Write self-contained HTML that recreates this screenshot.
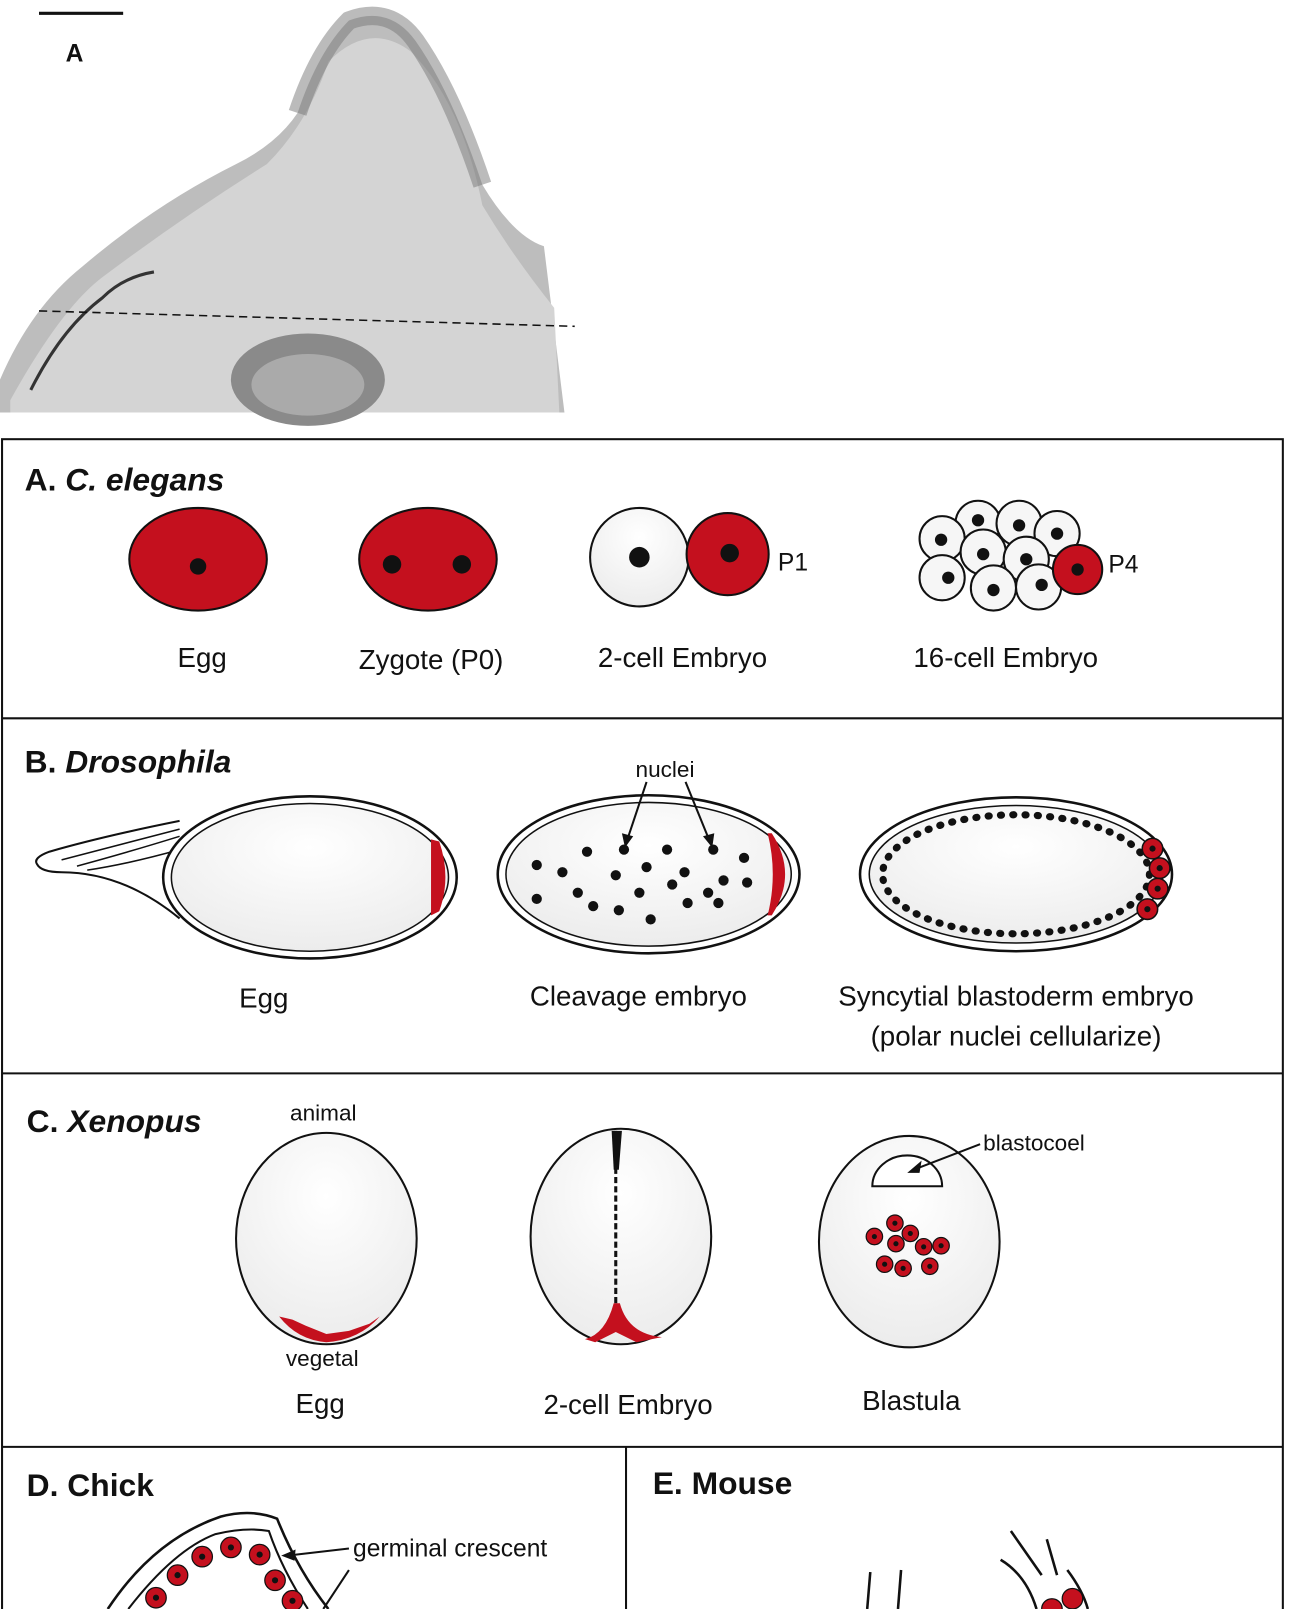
<!DOCTYPE html>
<html><head><meta charset="utf-8"><style>
html,body{margin:0;padding:0;background:#fff;}
svg{display:block;}
text{font-family:"Liberation Sans",sans-serif;fill:#111;}
</style></head><body>
<svg width="1289" height="1609" viewBox="0 0 1256 1568" preserveAspectRatio="none" xmlns="http://www.w3.org/2000/svg">
<defs>
<radialGradient id="g" cx="0.5" cy="0.3" r="0.7"><stop offset="0" stop-color="#fff"/><stop offset="1" stop-color="#ececec"/></radialGradient>
</defs>
<line x1="38" y1="13" x2="120" y2="13" stroke="#111" stroke-width="3"/>
<text x="64" y="60" font-size="24" font-weight="bold">A</text>
<path d="M0 402 L0 370 Q30 300 80 260 Q150 200 230 160 Q270 140 290 110 Q310 50 340 20 Q380 5 405 40 Q440 90 470 180 Q500 230 530 240 L550 402 Z" fill="#bdbdbd"/>
<path d="M10 390 Q60 300 100 270 Q180 210 260 160 Q300 120 320 60 Q360 20 400 50 Q450 100 470 200 Q500 250 540 300 L545 402 L10 402 Z" fill="#d4d4d4"/>
<path d="M290 110 Q310 50 340 20 Q380 5 405 40 Q440 90 470 180" fill="none" stroke="#777" stroke-width="18" opacity="0.5"/>
<ellipse cx="300" cy="370" rx="75" ry="45" fill="#8a8a8a"/>
<ellipse cx="300" cy="375" rx="55" ry="30" fill="#aaa"/>
<path d="M30 380 Q60 320 100 290 Q120 270 150 265" fill="none" stroke="#333" stroke-width="3"/>
<line x1="38" y1="303" x2="560" y2="318" stroke="#111" stroke-width="1.5" stroke-dasharray="8,5"/>
<rect x="2" y="428" width="1248" height="1160" fill="none" stroke="#111" stroke-width="2"/>
<line x1="2" y1="700" x2="1250" y2="700" stroke="#111" stroke-width="2"/>
<line x1="2" y1="1046" x2="1250" y2="1046" stroke="#111" stroke-width="2"/>
<line x1="2" y1="1410" x2="1250" y2="1410" stroke="#111" stroke-width="2"/>
<line x1="610" y1="1410" x2="610" y2="1568" stroke="#111" stroke-width="2"/>
<text x="24" y="478" font-size="31" font-weight="bold">A. <tspan font-style="italic">C. elegans</tspan></text>
<ellipse cx="193" cy="545" rx="67" ry="50" fill="#c4101e" stroke="#111" stroke-width="2"/>
<circle cx="193" cy="552" r="8" fill="#111"/>
<ellipse cx="417" cy="545" rx="67" ry="50" fill="#c4101e" stroke="#111" stroke-width="2"/>
<circle cx="382" cy="550" r="9" fill="#111"/><circle cx="450" cy="550" r="9" fill="#111"/>
<circle cx="623" cy="543" r="48" fill="url(#g)" stroke="#111" stroke-width="2"/>
<circle cx="623" cy="543" r="10" fill="#111"/>
<circle cx="709" cy="540" r="40" fill="#c4101e" stroke="#111" stroke-width="2"/>
<circle cx="711" cy="539" r="9" fill="#111"/>
<text x="758" y="556" font-size="24">P1</text>
<g fill="#f6f6f6" stroke="#111" stroke-width="2">
<circle cx="953" cy="510" r="22"/><circle cx="993" cy="510" r="22"/><circle cx="1030" cy="520" r="22"/>
<circle cx="918" cy="525" r="22"/><circle cx="958" cy="538" r="22"/><circle cx="1000" cy="545" r="22"/>
<circle cx="918" cy="563" r="22"/><circle cx="968" cy="573" r="22"/><circle cx="1012" cy="572" r="22"/>
</g>
<g fill="#111"><circle cx="953" cy="507" r="6"/><circle cx="993" cy="512" r="6"/><circle cx="1030" cy="520" r="6"/><circle cx="917" cy="526" r="6"/><circle cx="958" cy="540" r="6"/><circle cx="1000" cy="545" r="6"/><circle cx="924" cy="563" r="6"/><circle cx="968" cy="575" r="6"/><circle cx="1015" cy="570" r="6"/></g>
<circle cx="1050" cy="555" r="24" fill="#c4101e" stroke="#111" stroke-width="2"/>
<circle cx="1050" cy="555" r="6" fill="#111"/>
<text x="1080" y="558" font-size="24">P4</text>
<g font-size="27" text-anchor="middle"><text x="197" y="650">Egg</text><text x="420" y="652">Zygote (P0)</text><text x="665" y="650">2-cell Embryo</text><text x="980" y="650">16-cell Embryo</text></g>
<text x="24" y="753" font-size="31" font-weight="bold">B. <tspan font-style="italic">Drosophila</tspan></text>
<path d="M175 800 Q100 815 48 830 Q32 836 36 842 Q40 850 60 850 Q120 850 175 895" fill="#fff" stroke="#111" stroke-width="2"/>
<path d="M175 808 Q110 825 60 838 M175 815 Q120 832 75 844 M175 828 Q125 842 85 848" fill="none" stroke="#111" stroke-width="1.5"/>
<ellipse cx="302" cy="855" rx="143" ry="79" fill="#fff" stroke="#111" stroke-width="2.5"/>
<ellipse cx="302" cy="855" rx="135" ry="72" fill="url(#g)" stroke="#111" stroke-width="1.5"/>
<path d="M420 818 L428 820 Q440 855 428 888 L420 892 Z" fill="#c4101e"/>
<ellipse cx="632" cy="852" rx="147" ry="77" fill="#fff" stroke="#111" stroke-width="2.5"/>
<ellipse cx="632" cy="852" rx="139" ry="70" fill="url(#g)" stroke="#111" stroke-width="1.5"/>
<path d="M752 812 Q778 852 752 892 L748 892 Q758 852 748 812 Z" fill="#c4101e"/>
<text x="648" y="757" font-size="22" text-anchor="middle">nuclei</text>
<line x1="630" y1="762" x2="612" y2="816" stroke="#111" stroke-width="2"/>
<path d="M609 826 L606 812 L617 815 Z" fill="#111"/>
<line x1="668" y1="762" x2="690" y2="816" stroke="#111" stroke-width="2"/>
<path d="M694 826 L685 815 L696 812 Z" fill="#111"/>
<g fill="#111">
<circle cx="572" cy="830" r="5"/><circle cx="608" cy="828" r="5"/><circle cx="650" cy="828" r="5"/><circle cx="695" cy="828" r="5"/><circle cx="725" cy="836" r="5"/>
<circle cx="523" cy="843" r="5"/><circle cx="548" cy="850" r="5"/><circle cx="600" cy="853" r="5"/><circle cx="630" cy="845" r="5"/><circle cx="667" cy="850" r="5"/><circle cx="705" cy="858" r="5"/><circle cx="728" cy="860" r="5"/>
<circle cx="563" cy="870" r="5"/><circle cx="623" cy="870" r="5"/><circle cx="655" cy="862" r="5"/><circle cx="690" cy="870" r="5"/>
<circle cx="523" cy="876" r="5"/><circle cx="578" cy="883" r="5"/><circle cx="603" cy="887" r="5"/><circle cx="634" cy="896" r="5"/><circle cx="670" cy="880" r="5"/><circle cx="700" cy="880" r="5"/>
</g>
<ellipse cx="990" cy="852" rx="152" ry="75" fill="#fff" stroke="#111" stroke-width="2.5"/>
<ellipse cx="990" cy="852" rx="143" ry="67" fill="url(#g)" stroke="#111" stroke-width="1.5"/>
<ellipse cx="990" cy="852" rx="130" ry="58" fill="none" stroke="#111" stroke-width="7" stroke-dasharray="1,11" stroke-linecap="round"/>
<g fill="#c4101e" stroke="#111" stroke-width="1.5"><circle cx="1123" cy="827" r="10"/><circle cx="1130" cy="846" r="10"/><circle cx="1128" cy="866" r="10"/><circle cx="1118" cy="886" r="10"/></g>
<g fill="#111"><circle cx="1123" cy="827" r="3"/><circle cx="1130" cy="846" r="3"/><circle cx="1128" cy="866" r="3"/><circle cx="1118" cy="886" r="3"/></g>
<g font-size="27" text-anchor="middle"><text x="257" y="982">Egg</text><text x="622" y="980">Cleavage embryo</text><text x="990" y="980">Syncytial blastoderm embryo</text><text x="990" y="1019">(polar nuclei cellularize)</text></g>
<text x="26" y="1103" font-size="31" font-weight="bold">C. <tspan font-style="italic">Xenopus</tspan></text>
<text x="315" y="1092" font-size="22" text-anchor="middle">animal</text>
<ellipse cx="318" cy="1207" rx="88" ry="103" fill="url(#g)" stroke="#111" stroke-width="2"/>
<path d="M272 1283 L285 1286 L298 1292 L318 1300 L340 1297 L360 1290 L370 1283 Q350 1306 318 1308 Q290 1306 272 1283 Z" fill="#c4101e"/>
<text x="314" y="1331" font-size="22" text-anchor="middle">vegetal</text>
<ellipse cx="605" cy="1205" rx="88" ry="105" fill="url(#g)" stroke="#111" stroke-width="2"/>
<line x1="600" y1="1102" x2="600" y2="1290" stroke="#111" stroke-width="3" stroke-dasharray="6,3"/>
<path d="M596 1102 L606 1102 L603 1140 L598 1140 Z" fill="#111"/>
<path d="M570 1305 Q590 1300 598 1270 L604 1270 Q612 1300 645 1303 L620 1308 L600 1298 L580 1308 Z" fill="#c4101e"/>
<ellipse cx="886" cy="1210" rx="88" ry="103" fill="url(#g)" stroke="#111" stroke-width="2"/>
<path d="M850 1156 A34 30 0 0 1 918 1156 Z" fill="#fff" stroke="#111" stroke-width="2"/>
<line x1="955" y1="1115" x2="890" y2="1140" stroke="#111" stroke-width="2"/>
<path d="M884 1143 L898 1131 L896 1143 Z" fill="#111"/>
<text x="958" y="1121" font-size="22">blastocoel</text>
<g fill="#c4101e" stroke="#111" stroke-width="1.2">
<circle cx="872" cy="1192" r="8"/><circle cx="852" cy="1205" r="8"/><circle cx="887" cy="1202" r="8"/><circle cx="873" cy="1212" r="8"/><circle cx="900" cy="1215" r="8"/><circle cx="917" cy="1214" r="8"/><circle cx="862" cy="1232" r="8"/><circle cx="880" cy="1236" r="8"/><circle cx="906" cy="1234" r="8"/>
</g>
<g fill="#111"><circle cx="872" cy="1192" r="2.5"/><circle cx="852" cy="1205" r="2.5"/><circle cx="887" cy="1202" r="2.5"/><circle cx="873" cy="1212" r="2.5"/><circle cx="900" cy="1215" r="2.5"/><circle cx="917" cy="1214" r="2.5"/><circle cx="862" cy="1232" r="2.5"/><circle cx="880" cy="1236" r="2.5"/><circle cx="906" cy="1234" r="2.5"/></g>
<g font-size="27" text-anchor="middle"><text x="312" y="1377">Egg</text><text x="612" y="1378">2-cell Embryo</text><text x="888" y="1374">Blastula</text></g>
<text x="26" y="1458" font-size="31" font-weight="bold">D. Chick</text>
<path d="M105 1568 Q150 1500 215 1478 Q245 1470 270 1480 Q290 1530 320 1568" fill="none" stroke="#111" stroke-width="2.5"/>
<path d="M125 1568 Q170 1510 210 1495 Q240 1488 262 1492 Q275 1530 300 1568" fill="none" stroke="#111" stroke-width="2"/>
<g fill="#c4101e" stroke="#111" stroke-width="1.2"><circle cx="197" cy="1517" r="10"/><circle cx="225" cy="1508" r="10"/><circle cx="253" cy="1515" r="10"/><circle cx="173" cy="1535" r="10"/><circle cx="268" cy="1540" r="10"/><circle cx="152" cy="1557" r="10"/><circle cx="285" cy="1560" r="10"/></g>
<g fill="#111"><circle cx="197" cy="1517" r="3"/><circle cx="225" cy="1508" r="3"/><circle cx="253" cy="1515" r="3"/><circle cx="173" cy="1535" r="3"/><circle cx="268" cy="1540" r="3"/><circle cx="152" cy="1557" r="3"/><circle cx="285" cy="1560" r="3"/></g>
<line x1="340" y1="1509" x2="280" y2="1516" stroke="#111" stroke-width="2"/>
<path d="M274 1516 L288 1510 L287 1521 Z" fill="#111"/>
<line x1="340" y1="1530" x2="315" y2="1568" stroke="#111" stroke-width="2"/>
<text x="344" y="1517" font-size="24">germinal crescent</text>
<text x="636" y="1456" font-size="31" font-weight="bold">E. Mouse</text>
<line x1="848" y1="1532" x2="845" y2="1568" stroke="#111" stroke-width="2.5"/>
<line x1="878" y1="1530" x2="875" y2="1568" stroke="#111" stroke-width="2.5"/>
<path d="M985 1492 L1015 1535 M1020 1500 L1030 1535 M975 1520 Q1000 1535 1010 1568 M1040 1530 Q1055 1550 1060 1568" fill="none" stroke="#111" stroke-width="2.5"/>
<circle cx="1045" cy="1558" r="10" fill="#c4101e" stroke="#111" stroke-width="1.2"/>
<circle cx="1025" cy="1568" r="10" fill="#c4101e" stroke="#111" stroke-width="1.2"/>
</svg>
</body></html>
